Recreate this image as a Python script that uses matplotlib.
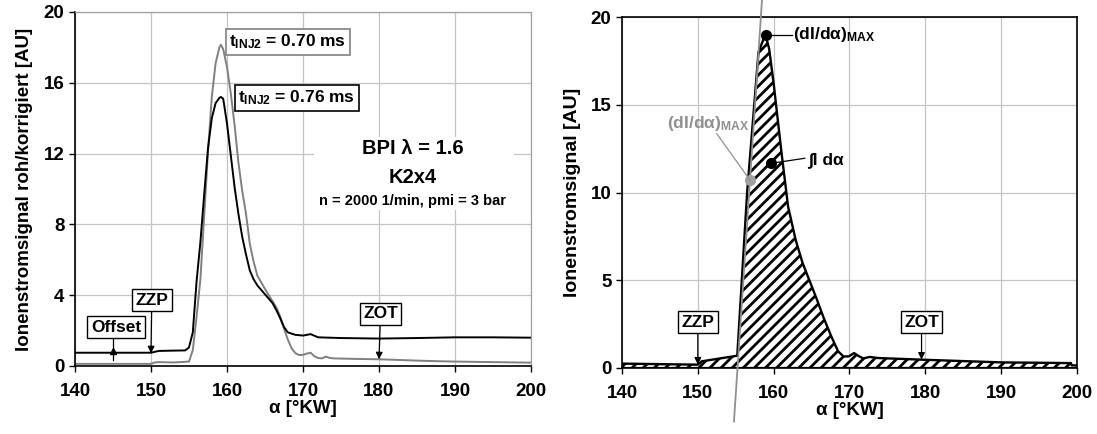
import matplotlib
matplotlib.use("Agg")
import matplotlib.pyplot as plt
from matplotlib.patches import Rectangle
import numpy as np

plt.rcParams['font.family'] = ['Liberation Sans', 'DejaVu Sans']
plt.rcParams['font.weight'] = 'bold'
plt.rcParams['mathtext.fontset'] = 'custom'
plt.rcParams['mathtext.rm'] = 'Liberation Sans:bold'
plt.rcParams['mathtext.bf'] = 'Liberation Sans:bold'
plt.rcParams['mathtext.it'] = 'Liberation Sans:bold'
plt.rcParams['hatch.linewidth'] = 2.0

# ---- left chart data ----
x_076 = [140, 145, 150, 151, 153, 154.5, 155, 155.5, 156, 156.5, 157, 157.5, 158, 158.5, 159,
         159.2, 159.5, 160, 160.5, 161, 161.5, 162, 162.5, 163, 163.5, 164, 165, 166, 166.5,
         167, 167.5, 168, 168.5, 169, 170, 171, 172, 175, 180, 185, 190, 195, 200]
y_076 = [0.75, 0.75, 0.75, 0.85, 0.87, 0.88, 1.05, 1.9, 4.8, 7.0, 9.7, 12.3, 14.0, 14.85, 15.15,
         15.2, 15.1, 13.7, 11.9, 10.1, 8.6, 7.3, 6.3, 5.4, 4.9, 4.55, 4.05, 3.55, 3.15,
         2.7, 2.2, 1.9, 1.83, 1.76, 1.72, 1.8, 1.62, 1.58, 1.55, 1.58, 1.62, 1.62, 1.6]

x_070 = [140, 145, 150, 150.5, 151, 153, 155, 155.5, 156, 156.5, 157, 157.5, 158, 158.5, 159,
         159.2, 159.5, 160, 160.5, 161, 161.5, 162, 162.5, 163, 163.5, 164, 165, 166, 166.5,
         167, 167.5, 168, 168.5, 169, 169.5, 170, 170.5, 171, 171.5, 172, 172.5, 173, 173.5,
         174, 177, 180, 186, 190, 195, 200]
y_070 = [0.12, 0.12, 0.12, 0.2, 0.22, 0.2, 0.25, 0.9, 2.8, 4.9, 8.5, 12.1, 15.2, 17.1, 18.0,
         18.15, 17.9, 16.9, 15.4, 13.6, 11.5, 9.9, 8.6, 6.9, 5.9, 5.1, 4.35, 3.65, 3.3,
         2.8, 2.1, 1.5, 1.0, 0.72, 0.62, 0.63, 0.7, 0.75, 0.55, 0.45, 0.43, 0.53, 0.46,
         0.43, 0.4, 0.38, 0.29, 0.25, 0.22, 0.19]

# ---- right chart data ----
x_r = [140, 150, 150.5, 155.2, 156.5, 158, 158.9, 159.4, 160, 161, 161.9, 162.9, 163.8, 164.8,
       165.7, 166.6, 167.6, 168.5, 169.2, 169.9, 170.6, 171.3, 171.8, 172.7, 173.7, 179.8,
       190, 199.2, 199.3, 200]
y_r = [0.25, 0.19, 0.38, 0.7, 10.0, 18.0, 19.0, 18.2, 16.2, 12.4, 9.2, 7.3, 6.0, 4.9,
       3.9, 2.85, 1.8, 0.95, 0.66, 0.66, 0.85, 0.66, 0.55, 0.63, 0.57, 0.47,
       0.32, 0.28, 0.15, 0.15]

peak_pt = (158.97, 19.0)
tangent_pt = (156.88, 10.7)
tangent_slope = 6.5
integral_pt = (159.63, 11.66)

left_yticks = [0, 4, 8, 12, 16, 20]
right_yticks = [0, 5, 10, 15, 20]
xticks = [140, 150, 160, 170, 180, 190, 200]

W, H = 1097, 434
fig = plt.figure(figsize=(W / 100, H / 100), dpi=100)
axL = fig.add_axes([75 / W, 1 - 366 / H, (531 - 75) / W, (366 - 12) / H])
axR = fig.add_axes([622 / W, 1 - 368 / H, (1077 - 622) / W, (368 - 17) / H])

TFS = 13.5
grid_c = '#c4c4c4'

for ax, yt in ((axL, left_yticks), (axR, right_yticks)):
    ax.set_xlim(140, 200)
    ax.set_ylim(0, 20)
    ax.set_xticks(xticks)
    ax.set_yticks(yt)
    ax.grid(True, color=grid_c, lw=0.9)
    ax.set_axisbelow(True)
    ax.tick_params(direction='out', length=4, width=1, labelsize=TFS)
    ax.tick_params(axis='x', pad=8.5)
    ax.tick_params(axis='y', pad=3.5)
    for lab in ax.get_xticklabels() + ax.get_yticklabels():
        lab.set_fontweight('bold')
    ax.set_xlabel('α [°KW]', fontsize=TFS, fontweight='bold', labelpad=0)
    for s in ('left', 'bottom'):
        ax.spines[s].set_linewidth(1.2)

for s in ('top', 'right'):
    axL.spines[s].set_color('#a0a0a0')
    axL.spines[s].set_linewidth(0.9)
    axR.spines[s].set_color('black')
    axR.spines[s].set_linewidth(1.2)

axL.set_ylabel('Ionenstromsignal roh/korrigiert [AU]', fontsize=13.5, fontweight='bold', labelpad=8)
axR.set_ylabel('Ionenstromsignal [AU]', fontsize=14, fontweight='bold', labelpad=7)

# ---- left chart ----
axL.plot(x_070, y_070, color='#808080', lw=1.4)
axL.plot(x_076, y_076, color='black', lw=1.4)

axL.text(160.3, 18.3, r'$\mathbf{t}_{\mathbf{INJ2}}$ = 0.70 ms', fontsize=12.5, fontweight='bold',
         va='center', ha='left',
         bbox=dict(boxstyle='square,pad=0.2', fc='white', ec='#808080', lw=1.2))
axL.text(161.5, 15.15, r'$\mathbf{t}_{\mathbf{INJ2}}$ = 0.76 ms', fontsize=12.5, fontweight='bold',
         va='center', ha='left',
         bbox=dict(boxstyle='square,pad=0.2', fc='white', ec='black', lw=1.2))

# white background block behind the condition text
axL.add_patch(Rectangle((171.4, 8.8), 197.7 - 171.4, 12.95 - 8.8, facecolor='white',
                        edgecolor='none', zorder=1.5))
axL.text(184.4, 12.3, 'BPI λ = 1.6', fontsize=14.5, fontweight='bold', ha='center', va='center',
         zorder=3)
axL.text(184.4, 10.65, 'K2x4', fontsize=14.5, fontweight='bold', ha='center', va='center',
         zorder=3)
axL.text(184.4, 9.35, 'n = 2000 1/min, pmi = 3 bar', fontsize=10.5, fontweight='bold',
         ha='center', va='center', zorder=3)

box = dict(boxstyle='square,pad=0.2', fc='white', ec='black', lw=1.0)
arr = dict(arrowstyle='-|>', color='black', lw=0.9, mutation_scale=10, shrinkA=0, shrinkB=0)

axL.annotate('ZZP', xy=(150, 0.72), xytext=(150.1, 3.72), fontsize=12.5, fontweight='bold',
             ha='center', va='center', bbox=box, arrowprops=arr)
axL.annotate('ZOT', xy=(180, 0.38), xytext=(180.2, 2.95), fontsize=12.5, fontweight='bold',
             ha='center', va='center', bbox=box, arrowprops=arr)
axL.text(145.4, 2.2, 'Offset', fontsize=12.5, fontweight='bold', ha='center', va='center', bbox=box)
axL.plot([145, 145], [1.65, 0.35], color='black', lw=0.9)
axL.plot([145], [0.82], marker='^', color='black', ms=5)

# ---- right chart ----
axR.fill_between(x_r, 0, y_r, facecolor='white', edgecolor='black', hatch='///', lw=0)
axR.plot(x_r, y_r, color='black', lw=1.7)
axR.axhline(0, color='black', lw=1.6)

# tangent line (extends outside axes)
y0, y1 = -3.05, 21.0
tx0 = tangent_pt[0] + (y0 - tangent_pt[1]) / tangent_slope
tx1 = tangent_pt[0] + (y1 - tangent_pt[1]) / tangent_slope
axR.plot([tx0, tx1], [y0, y1], color='#909090', lw=1.3, clip_on=False, zorder=5)

# points + labels
axR.plot(*peak_pt, 'o', color='black', ms=7, zorder=6)
axR.plot([peak_pt[0], 162.4], [peak_pt[1], 19.0], color='black', lw=0.9, zorder=6)
axR.text(162.5, 19.0, r'(dI/dα)$_{\mathbf{MAX}}$', fontsize=12.5, fontweight='bold',
         ha='left', va='center')

axR.plot(*tangent_pt, 'o', color='#a0a0a0', ms=7, zorder=6)
axR.plot([tangent_pt[0], 152.5], [tangent_pt[1], 13.35], color='#909090', lw=0.9, zorder=6)
axR.text(145.9, 13.95, r'(dI/dα)$_{\mathbf{MAX}}$', fontsize=12.5, fontweight='bold',
         ha='left', va='center', color='#909090')

axR.plot(*integral_pt, 'o', color='black', ms=7, zorder=6)
axR.plot([integral_pt[0], 164.1], [integral_pt[1], 11.95], color='black', lw=0.9, zorder=6)
axR.text(164.5, 11.85, '∫I dα', fontsize=12.5, fontweight='bold', ha='left', va='center')

axR.annotate('ZZP', xy=(150, 0.2), xytext=(150.0, 2.62), fontsize=12.5, fontweight='bold',
             ha='center', va='center', bbox=box, arrowprops=arr)
axR.annotate('ZOT', xy=(179.5, 0.48), xytext=(179.5, 2.62), fontsize=12.5, fontweight='bold',
             ha='center', va='center', bbox=box, arrowprops=arr)

fig.savefig('out.png', dpi=100)
